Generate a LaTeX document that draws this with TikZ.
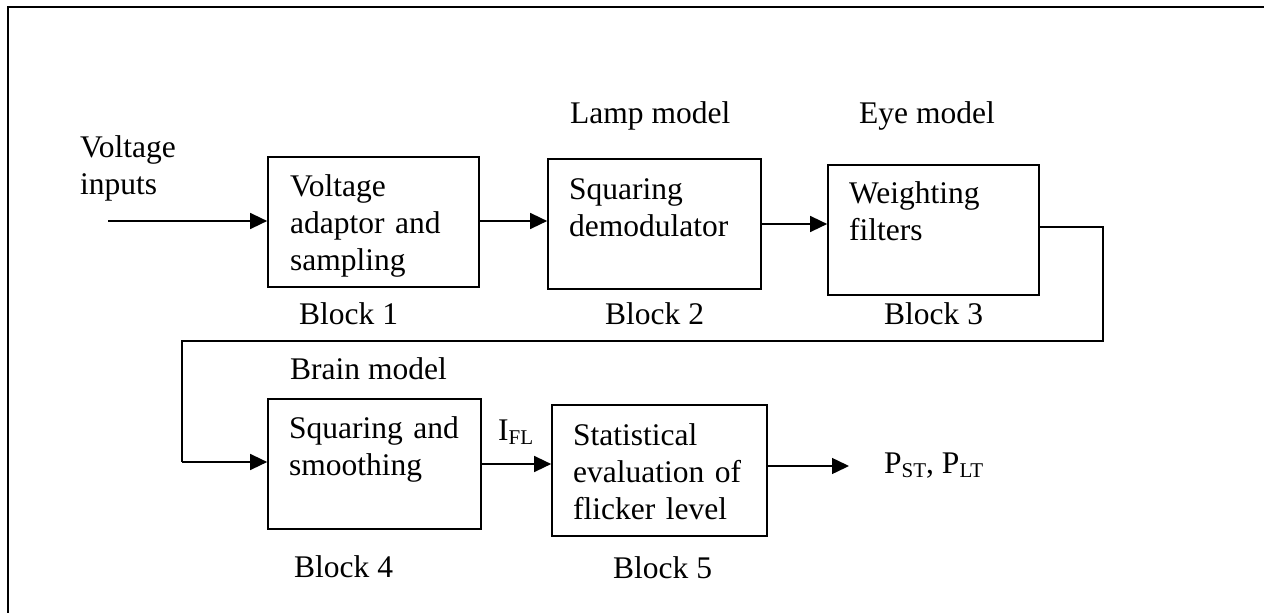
\documentclass[tikz,border=0pt]{standalone}
\usepackage{fontspec}
\setmainfont{Liberation Serif}
\usetikzlibrary{arrows.meta}
\tikzset{
  lbl/.style={anchor=base west, inner sep=0pt, font=\fontsize{31.5pt}{37pt}\selectfont},
  boxtext/.style={anchor=base west, inner sep=0pt, text width=200pt, align=left, font=\fontsize{31.5pt}{37pt}\selectfont},
  blockbox/.style={draw, line width=1.7pt, inner sep=0pt, minimum width=#1},
  blockbox/.default=211pt,
  conn/.style={line width=1.5pt},
  arr/.style={line width=1.5pt, -{Triangle[length=17pt,width=16pt]}},
  frame/.style={line width=2.4pt}
}
\newcommand{\mysub}[1]{\raisebox{-4.5pt}{\fontsize{21pt}{21pt}\selectfont #1}}
\begin{document}
\begin{tikzpicture}[x=1pt,y=-1pt]
\useasboundingbox (0,0) rectangle (1264,613);
% outer frame (top and left edges)
\coordinate (fbl) at (8,613);
\coordinate (ftl) at (8,7);
\coordinate (ftr) at (1264,7);
\draw[frame] (fbl) -- (ftl) -- (ftr);

% boxes
\node[blockbox=211pt, minimum height=130pt] (b1) at (373.5,222) {};
\node[blockbox=213pt, minimum height=130pt] (b2) at (654.5,224) {};
\node[blockbox=211pt, minimum height=130pt] (b3) at (933.5,230) {};
\node[blockbox=213pt, minimum height=130pt] (b4) at (374.5,464) {};
\node[blockbox=215pt, minimum height=131pt] (b5) at (659.5,470.5) {};

% box texts
\node[boxtext] (t1) at (290,196) {Voltage\\adaptor and\\sampling};
\node[boxtext] (t2) at (569,199) {Squaring\\demodulator};
\node[boxtext] (t3) at (849,203) {Weighting\\filters};
\node[boxtext] (t4) at (289,438) {Squaring and\\smoothing};
\node[boxtext] (t5) at (573,445) {Statistical\\evaluation of\\flicker level};

% labels
\node[boxtext] (vin) at (80,157) {Voltage\\inputs};
\node[lbl] (lamp) at (570,123) {Lamp model};
\node[lbl] (eye) at (859,123) {Eye model};
\node[lbl] (brain) at (290,379) {Brain model};
\node[lbl] (k1) at (299,324) {Block 1};
\node[lbl] (k2) at (605,324) {Block 2};
\node[lbl] (k3) at (884,324) {Block 3};
\node[lbl] (k4) at (294,577) {Block 4};
\node[lbl] (k5) at (613,578) {Block 5};
\node[lbl] (ifl) at (498,440) {I\mysub{FL}};
\node[lbl] (pout) at (884,473) {P\mysub{ST}, P\mysub{LT}};

% connectors
\coordinate (in) at (108,221);
\draw[arr] (in) -- (in -| b1.west);
\draw[arr] ([yshift=1pt]b1.east) -- ([yshift=1pt]b1.east -| b2.west);
\draw[arr] (b2.east) -- (b2.east -| b3.west);
\coordinate (r1) at (1103,227);
\coordinate (r2) at (1103,341);
\coordinate (l1) at (182,341);
\coordinate (l2) at (182,462);
\draw[conn] ([yshift=3pt]b3.east) -- (r1) -- (r2) -- (l1) -- (l2);
\draw[arr] (l2) -- (l2 -| b4.west);
\draw[arr] (b4.east) -- (b4.east -| b5.west);
\coordinate (out) at (849,466);
\draw[arr] (out -| b5.east) -- (out);
\end{tikzpicture}
\end{document}
